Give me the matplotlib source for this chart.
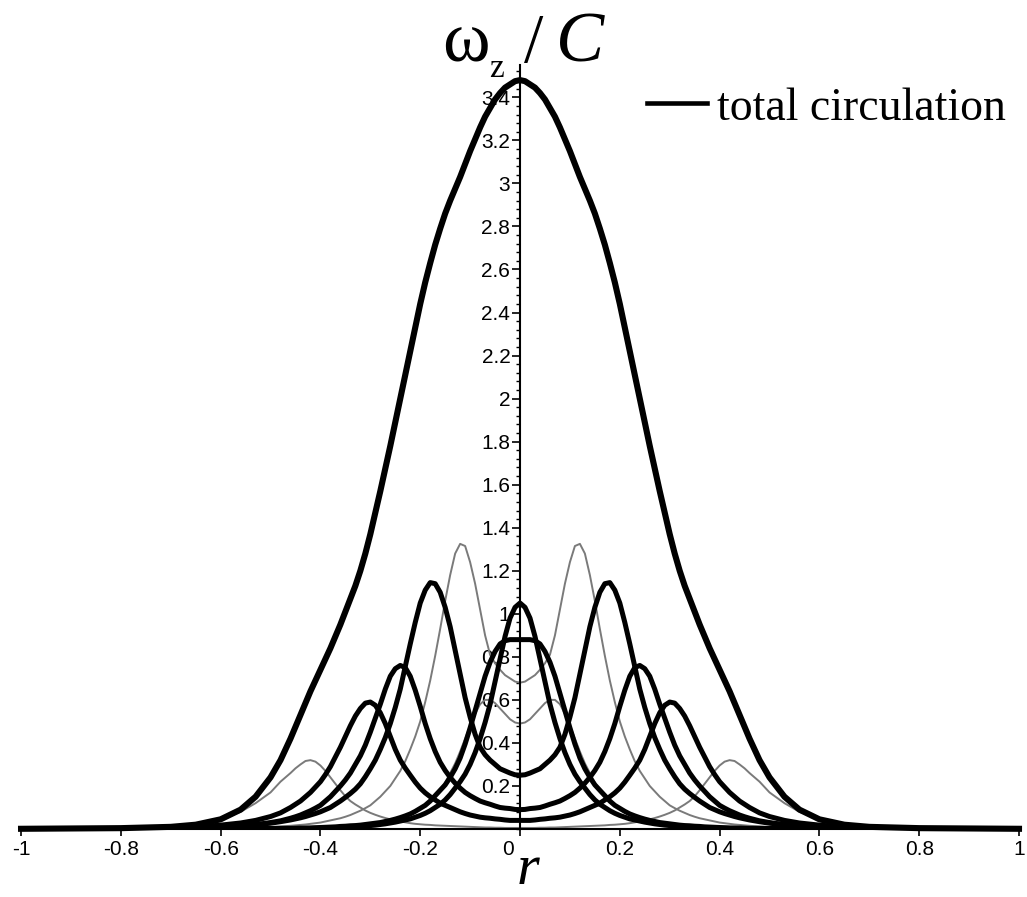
import matplotlib
import matplotlib.pyplot as plt
import matplotlib.transforms as mtransforms
from matplotlib.ticker import MultipleLocator, FixedLocator, FuncFormatter

matplotlib.use("Agg")

# radius samples (right half, curves are symmetric in r)
r_half = [0.00, 0.01, 0.02, 0.03, 0.04, 0.05, 0.06, 0.07, 0.08, 0.09,
          0.10, 0.11, 0.12, 0.13, 0.14, 0.15, 0.16, 0.17, 0.18, 0.19,
          0.20, 0.21, 0.22, 0.23, 0.24, 0.25, 0.26, 0.27, 0.28, 0.29,
          0.30, 0.31, 0.32, 0.33, 0.34, 0.35, 0.36, 0.37, 0.38, 0.39,
          0.40, 0.41, 0.42, 0.43, 0.44, 0.45, 0.46,
          0.48, 0.50, 0.53, 0.56, 0.60, 0.65, 0.70, 0.80, 1.00]

total = [3.48, 3.475, 3.46, 3.445, 3.42, 3.39, 3.35, 3.31, 3.26, 3.205,
         3.15, 3.09, 3.03, 2.975, 2.92, 2.86, 2.79, 2.715, 2.63, 2.54,
         2.44, 2.33, 2.22, 2.11, 2.00, 1.89, 1.78, 1.675, 1.57, 1.47,
         1.37, 1.28, 1.20, 1.13, 1.07, 1.01, 0.95, 0.895, 0.84, 0.79,
         0.74, 0.69, 0.64, 0.585, 0.53, 0.475, 0.42,
         0.32, 0.24, 0.15, 0.09, 0.045, 0.02, 0.01, 0.004, 0.001]

# single rings, black ones
ring_0 = [1.05, 1.03, 0.98, 0.895, 0.79, 0.685, 0.58, 0.495, 0.42, 0.355,
          0.30, 0.255, 0.22, 0.19, 0.16, 0.135, 0.115, 0.10, 0.085, 0.073,
          0.063, 0.055, 0.047, 0.042, 0.037, 0.032, 0.028, 0.024, 0.021, 0.018,
          0.016, 0.014, 0.012, 0.010, 0.009, 0.008, 0.007, 0.006, 0.005, 0.0045,
          0.004, 0.0035, 0.003, 0.003, 0.003, 0.0025, 0.002,
          0.002, 0.002, 0.001, 0.001, 0.001, 0, 0, 0, 0]
ring_1 = [0.88, 0.88, 0.88, 0.875, 0.86, 0.825, 0.775, 0.71, 0.63, 0.55,
          0.47, 0.395, 0.33, 0.28, 0.24, 0.205, 0.18, 0.155, 0.13, 0.11,
          0.096, 0.082, 0.07, 0.061, 0.053, 0.046, 0.04, 0.035, 0.03, 0.027,
          0.024, 0.021, 0.018, 0.016, 0.015, 0.013, 0.012, 0.010, 0.009, 0.008,
          0.007, 0.006, 0.005, 0.0045, 0.004, 0.0035, 0.003,
          0.003, 0.002, 0.002, 0.001, 0.001, 0.001, 0, 0, 0]
ring_4 = [0.25, 0.252, 0.26, 0.27, 0.28, 0.30, 0.32, 0.345, 0.38, 0.44,
          0.52, 0.61, 0.72, 0.83, 0.94, 1.03, 1.10, 1.14, 1.145, 1.11,
          1.05, 0.96, 0.86, 0.755, 0.65, 0.565, 0.49, 0.425, 0.37, 0.32,
          0.28, 0.243, 0.21, 0.185, 0.165, 0.147, 0.13, 0.115, 0.10, 0.09,
          0.08, 0.072, 0.065, 0.058, 0.052, 0.047, 0.042,
          0.034, 0.027, 0.02, 0.015, 0.01, 0.006, 0.004, 0.002, 0.001]
ring_5 = [0.09, 0.091, 0.095, 0.097, 0.10, 0.107, 0.115, 0.122, 0.13, 0.142,
          0.155, 0.17, 0.19, 0.213, 0.24, 0.272, 0.31, 0.36, 0.42, 0.49,
          0.57, 0.645, 0.71, 0.75, 0.76, 0.745, 0.71, 0.65, 0.58, 0.515,
          0.45, 0.39, 0.34, 0.30, 0.26, 0.228, 0.20, 0.175, 0.15, 0.13,
          0.11, 0.097, 0.085, 0.075, 0.065, 0.057, 0.05,
          0.038, 0.03, 0.02, 0.014, 0.009, 0.005, 0.003, 0.001, 0]
ring_6 = [0.04, 0.04, 0.04, 0.042, 0.045, 0.047, 0.05, 0.052, 0.055, 0.06,
          0.065, 0.072, 0.08, 0.09, 0.10, 0.11, 0.12, 0.135, 0.15, 0.168,
          0.19, 0.218, 0.25, 0.283, 0.32, 0.37, 0.43, 0.49, 0.54, 0.575,
          0.59, 0.585, 0.56, 0.525, 0.48, 0.43, 0.38, 0.335, 0.29, 0.253,
          0.22, 0.195, 0.17, 0.15, 0.13, 0.115, 0.10,
          0.075, 0.058, 0.04, 0.028, 0.018, 0.01, 0.006, 0.002, 0]

# single rings, grey ones
ring_2 = [0.49, 0.495, 0.51, 0.535, 0.56, 0.585, 0.60, 0.60, 0.58, 0.535,
          0.48, 0.42, 0.36, 0.305, 0.26, 0.215, 0.18, 0.155, 0.13, 0.11,
          0.09, 0.077, 0.065, 0.056, 0.047, 0.04, 0.034, 0.029, 0.025, 0.021,
          0.018, 0.015, 0.013, 0.011, 0.010, 0.008, 0.007, 0.006, 0.005, 0.0045,
          0.004, 0.0035, 0.003, 0.0025, 0.002, 0.002, 0.002,
          0.001, 0.001, 0.001, 0, 0, 0, 0, 0, 0]
ring_3 = [0.68, 0.685, 0.70, 0.715, 0.74, 0.77, 0.81, 0.90, 1.02, 1.14,
          1.24, 1.315, 1.325, 1.28, 1.18, 1.06, 0.93, 0.805, 0.69, 0.59,
          0.50, 0.43, 0.37, 0.315, 0.27, 0.235, 0.20, 0.175, 0.15, 0.13,
          0.11, 0.097, 0.085, 0.075, 0.065, 0.057, 0.05, 0.045, 0.04, 0.035,
          0.03, 0.027, 0.024, 0.021, 0.019, 0.017, 0.015,
          0.012, 0.01, 0.007, 0.005, 0.003, 0.002, 0.001, 0, 0]
ring_7 = [0.005, 0.005, 0.005, 0.005, 0.006, 0.006, 0.007, 0.007, 0.008, 0.009,
          0.01, 0.011, 0.012, 0.013, 0.014, 0.015, 0.016, 0.017, 0.019, 0.02,
          0.022, 0.024, 0.027, 0.031, 0.035, 0.04, 0.045, 0.051, 0.058, 0.066,
          0.075, 0.086, 0.10, 0.114, 0.13, 0.152, 0.18, 0.21, 0.24, 0.27,
          0.295, 0.313, 0.32, 0.316, 0.30, 0.282, 0.26,
          0.22, 0.17, 0.12, 0.08, 0.045, 0.022, 0.012, 0.004, 0.001]

x_ticks = [-1, -0.8, -0.6, -0.4, -0.2, 0, 0.2, 0.4, 0.6, 0.8, 1]
x_labels = ["-1", "-0.8", "-0.6", "-0.4", "-0.2", "0", "0.2", "0.4", "0.6", "0.8", "1"]


def mirror(vals):
    return list(reversed(vals[1:])) + list(vals)


r_full = [-v for v in reversed(r_half[1:])] + r_half

fig = plt.figure(figsize=(10.27, 8.97), dpi=100)
ax = fig.add_axes([0.0205, 0.0758, 0.9717, 0.8517])

for ring in [ring_2, ring_3, ring_7]:
    ax.plot(r_full, mirror(ring), color="#7a7a7a", lw=1.4, zorder=2)
for ring in [ring_0, ring_1, ring_4, ring_5, ring_6]:
    ax.plot(r_full, mirror(ring), color="black", lw=3.6, zorder=3,
            solid_joinstyle="round")
ax.plot(r_full, mirror(total), color="black", lw=4.4, zorder=4,
        solid_joinstyle="round", label="total circulation", clip_on=False)

ax.set_xlim(-1, 1)
ax.set_ylim(0, 3.55)

# maple style axes crossing at the origin
ax.spines["left"].set_position(("data", 0))
ax.spines["bottom"].set_position(("data", 0))
ax.spines["right"].set_visible(False)
ax.spines["top"].set_visible(False)
ax.spines["left"].set_linewidth(1.5)
ax.spines["bottom"].set_linewidth(1.5)

ax.xaxis.set_major_locator(FixedLocator(x_ticks))
ax.set_xticklabels(x_labels)
ax.yaxis.set_major_locator(FixedLocator([0.2 * i for i in range(1, 18)]))
ax.yaxis.set_minor_locator(MultipleLocator(0.04))
ax.yaxis.set_major_formatter(FuncFormatter(lambda v, p: ("%.1f" % v).rstrip("0").rstrip(".")))

ax.tick_params(axis="x", direction="out", length=5, width=1.2, pad=3,
               labelsize=15)
ax.tick_params(axis="y", which="major", direction="out", length=6, width=1.2,
               pad=1, labelsize=15)
ax.tick_params(axis="y", which="minor", direction="out", length=3, width=1)
for lab in ax.get_xticklabels() + ax.get_yticklabels():
    lab.set_fontfamily(["Liberation Sans", "DejaVu Sans"])

# the "0" label sits a bit left of its tick
zero_lab = ax.get_xticklabels()[5]
zero_lab.set_transform(zero_lab.get_transform()
                       + mtransforms.ScaledTranslation(-0.12, 0, fig.dpi_scale_trans))

serif = ["Liberation Serif", "DejaVu Serif"]
fig.text(466 / 1027, 1 - 62 / 897, "\u03c9", fontsize=52, family=serif,
         ha="center", va="baseline")
fig.text(497 / 1027, 1 - 77 / 897, "z", fontsize=24, family=serif,
         ha="center", va="baseline")
fig.text(534 / 1027, 1 - 62 / 897, "/", fontsize=50, family=serif,
         ha="center", va="baseline")
fig.text(580 / 1027, 1 - 62 / 897, "C", fontsize=52, family=serif,
         style="italic", ha="center", va="baseline")
fig.text(517 / 1027, 1 / 897, "r", fontsize=42, family=serif,
         style="italic", ha="left", va="bottom")

leg = ax.legend(loc="upper right", bbox_to_anchor=(1006 / 1027, 1 - 87 / 897),
                bbox_transform=fig.transFigure, frameon=False,
                prop={"family": serif, "size": 33}, handlelength=1.3,
                handletextpad=0.22, borderpad=0, borderaxespad=0)
leg.get_lines()[0].set_linewidth(3.3)

fig.savefig("out.png", dpi=100)
